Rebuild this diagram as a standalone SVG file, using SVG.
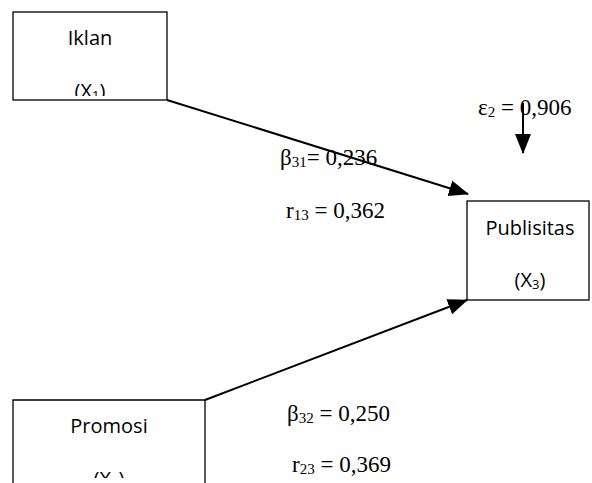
<svg xmlns="http://www.w3.org/2000/svg" width="592" height="483" viewBox="0 0 592 483">
<style>
.box{fill:#fff;stroke:#000;stroke-width:1.3}
.lbl{font-family:"Open Sans","Noto Sans",sans-serif;font-size:20px;fill:#000;text-anchor:middle}
.lsub{font-size:13px}
.coef{font-family:"Liberation Serif",serif;font-size:23px;fill:#000}
.sub{font-size:15px}
.edge{stroke:#000;stroke-width:2;fill:none}
</style>
<defs>
<marker id="ah2" markerWidth="20" markerHeight="20" refX="19" refY="10" orient="auto" markerUnits="userSpaceOnUse" viewBox="0 0 20 20">
<path d="M0,2 L20,10 L0,18 z" fill="#000"/>
</marker>
<clipPath id="c1"><rect x="13" y="12" width="154" height="84"/></clipPath>
<clipPath id="c2"><rect x="13" y="400" width="192" height="78"/></clipPath>
</defs>
<g id="iklan">
<rect class="box" x="13" y="12" width="154" height="88"/>
<g clip-path="url(#c1)">
<text class="lbl" x="90" y="45">Iklan</text>
<text class="lbl" x="90" y="98">(X<tspan class="lsub" dy="2">1</tspan><tspan dy="-2">)</tspan></text>
</g>
</g>
<g id="publisitas">
<rect class="box" x="467" y="201" width="122" height="99"/>
<text class="lbl" x="530" y="235">Publisitas</text>
<text class="lbl" x="530" y="287">(X<tspan class="lsub" dy="2">3</tspan><tspan dy="-2">)</tspan></text>
</g>
<g id="promosi">
<path class="box" d="M13,483 L13,400 L205,400 L205,483"/>
<g clip-path="url(#c2)">
<text class="lbl" x="109" y="433">Promosi</text>
<text class="lbl" x="109" y="486">(X<tspan class="lsub" dy="2">2</tspan><tspan dy="-2">)</tspan></text>
</g>
</g>
<g id="connectors">
<line class="edge" x1="167" y1="100" x2="468" y2="194" marker-end="url(#ah2)"/>
<line class="edge" x1="205" y1="400" x2="467" y2="300" marker-end="url(#ah2)"/>
<line class="edge" x1="523" y1="103" x2="523" y2="153" marker-end="url(#ah2)"/>
</g>
<g id="labels">
<text class="coef" x="478" y="115">ε<tspan class="sub" dy="2">2</tspan><tspan dy="-2"> = 0,906</tspan></text>
<text class="coef" x="280" y="165">β<tspan class="sub" dy="2">31</tspan><tspan dy="-2">= 0,236</tspan></text>
<text class="coef" x="286" y="218">r<tspan class="sub" dy="2">13</tspan><tspan dy="-2"> = 0,362</tspan></text>
<text class="coef" x="287" y="421">β<tspan class="sub" dy="2">32</tspan><tspan dy="-2"> = 0,250</tspan></text>
<text class="coef" x="292" y="472">r<tspan class="sub" dy="2">23</tspan><tspan dy="-2"> = 0,369</tspan></text>
</g>
</svg>
